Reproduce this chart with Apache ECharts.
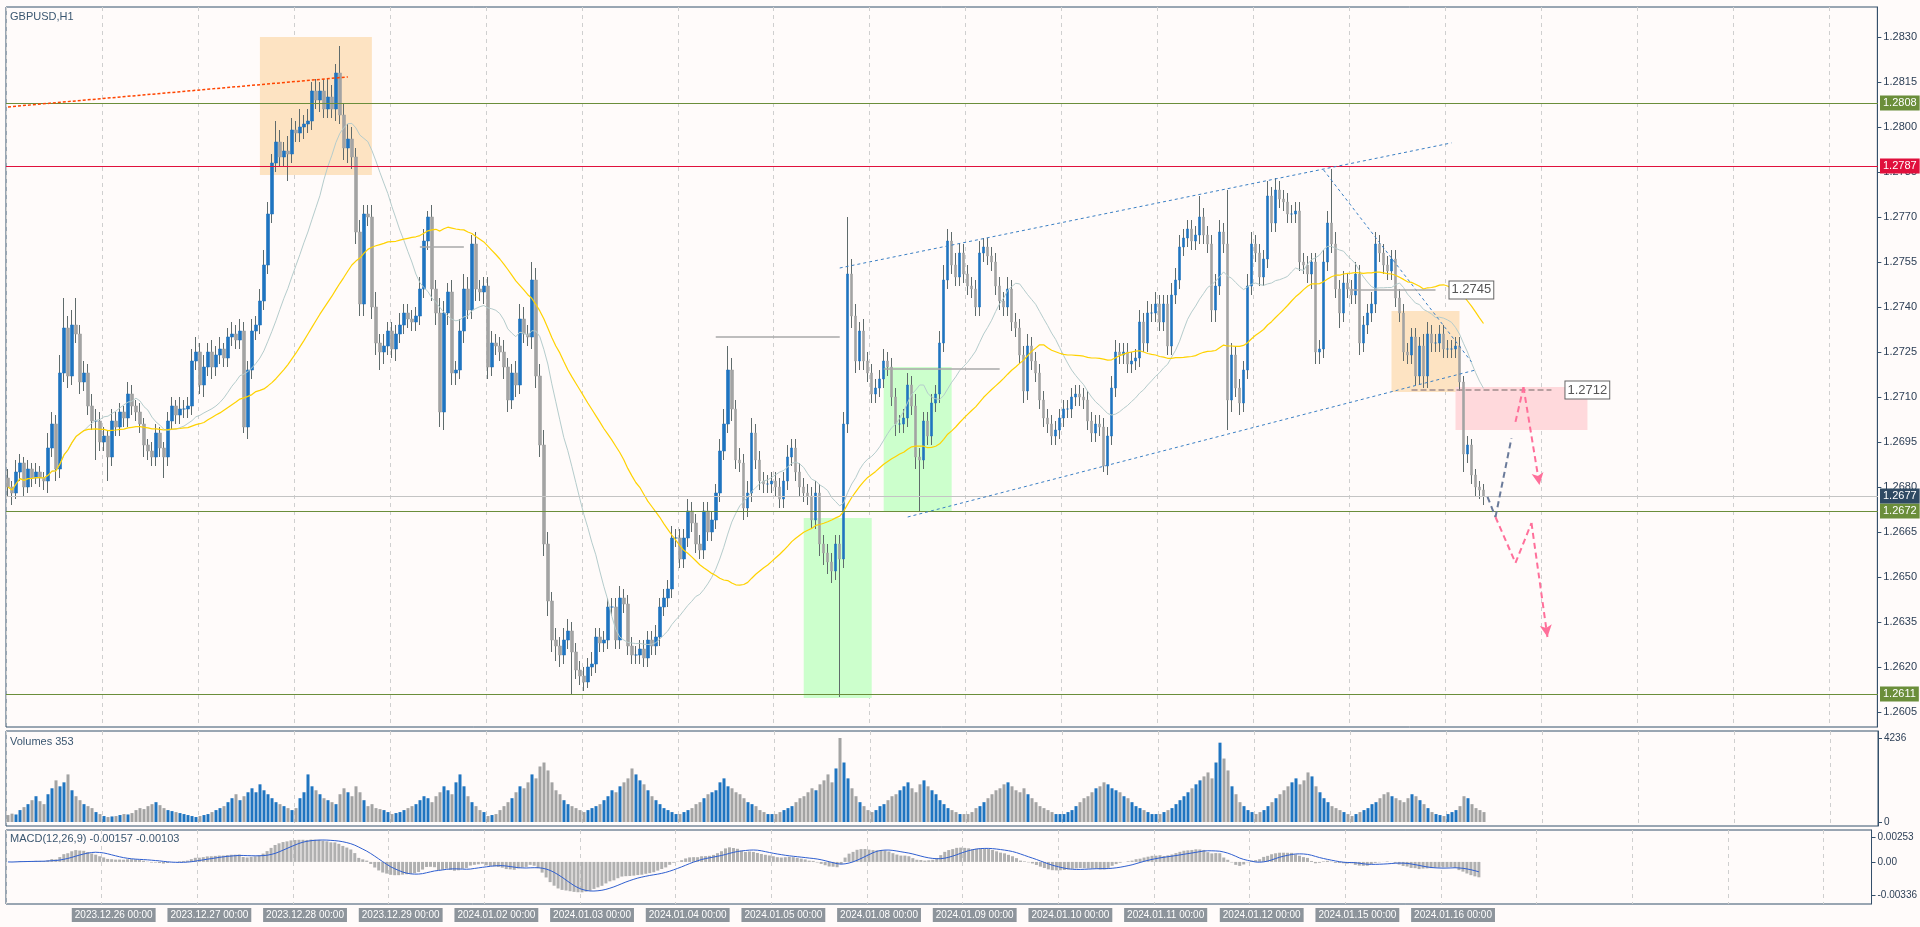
<!DOCTYPE html>
<html><head><meta charset="utf-8">
<script src="https://cdn.jsdelivr.net/npm/echarts@6/dist/echarts.min.js"></script>
<style>html,body{margin:0;padding:0;background:#fffbfa}#c{width:1920px;height:927px}</style>
</head><body><div id="c"></div>
<script>
const firstOpen = 1.2683;
const closes = [
1.2680,1.2678,1.2685,1.2688,1.2680,1.2686,1.2683,1.2685,1.2683,1.2682,
1.2693,1.2701,1.2686,1.2718,1.2733,1.2717,1.2734,1.2731,1.2715,1.2718,
1.2707,1.2702,1.2702,1.2695,1.2697,1.2690,1.2702,1.2700,1.2705,1.2703,
1.2711,1.2707,1.2705,1.2701,1.2694,1.2692,1.2690,1.2698,1.2693,1.2690,
1.2702,1.2707,1.2704,1.2706,1.2706,1.2707,1.2722,1.2725,1.2714,1.2720,
1.2725,1.2720,1.2724,1.2726,1.2723,1.2730,1.2731,1.2729,1.2732,1.2700,
1.2719,1.2732,1.2734,1.2742,1.2754,1.2771,1.2788,1.2795,1.2790,1.2792,
1.2791,1.2799,1.2798,1.2800,1.2801,1.2802,1.2812,1.2809,1.2812,1.2806,
1.2810,1.2806,1.2818,1.2804,1.2793,1.2796,1.2790,1.2765,1.2741,1.2771,
1.2770,1.2740,1.2728,1.2725,1.2727,1.2732,1.2726,1.2731,1.2734,1.2738,
1.2736,1.2735,1.2737,1.2746,1.2762,1.2770,1.2746,1.2738,1.2705,1.2738,
1.2745,1.2718,1.2719,1.2732,1.2746,1.2739,1.2761,1.2746,1.2745,1.2747,
1.2720,1.2728,1.2727,1.2725,1.2720,1.2709,1.2718,1.2714,1.2736,1.2731,
1.2730,1.2749,1.2717,1.2694,1.2661,1.2642,1.2629,1.2627,1.2624,1.2629,
1.2632,1.2625,1.2619,1.2617,1.2615,1.2620,1.2621,1.2630,1.2628,1.2629,
1.2640,1.2640,1.2629,1.2643,1.2641,1.2627,1.2624,1.2624,1.2626,1.2623,
1.2629,1.2627,1.2630,1.2640,1.2643,1.2646,1.2663,1.2663,1.2656,1.2663,
1.2672,1.2668,1.2661,1.2659,1.2672,1.2665,1.2669,1.2678,1.2692,1.2701,
1.2719,1.2706,1.2689,1.2688,1.2673,1.2678,1.2698,1.2689,1.2682,1.2681,
1.2681,1.2682,1.2680,1.2676,1.2682,1.2690,1.2693,1.2685,1.2680,1.2678,
1.2677,1.2669,1.2678,1.2661,1.2658,1.2655,1.2652,1.2661,1.2656,1.2701,
1.2751,1.2737,1.2722,1.2732,1.2722,1.2718,1.2711,1.2713,1.2716,1.2722,
1.2720,1.2710,1.2701,1.2701,1.2703,1.2714,1.2707,1.2690,1.2689,1.2702,
1.2697,1.2708,1.2711,1.2728,1.2749,1.2762,1.2754,1.2750,1.2758,1.2751,
1.2747,1.2746,1.2740,1.2758,1.2760,1.2757,1.2755,1.2747,1.2742,1.2740,
1.2746,1.2735,1.2733,1.2724,1.2712,1.2727,1.2722,1.2718,1.2709,1.2703,
1.2701,1.2697,1.2699,1.2703,1.2706,1.2706,1.2710,1.2711,1.2710,1.2709,
1.2702,1.2698,1.2701,1.2700,1.2687,1.2697,1.2713,1.2725,1.2724,1.2725,
1.2721,1.2722,1.2723,1.2735,1.2728,1.2738,1.2738,1.2741,1.2735,1.2741,
1.2727,1.2744,1.2749,1.2760,1.2763,1.2766,1.2762,1.2764,1.2770,1.2764,
1.2761,1.2739,1.2747,1.2765,1.2761,1.2709,1.2724,1.2713,1.2708,1.2719,
1.2747,1.2761,1.2758,1.2750,1.2756,1.2777,1.2768,1.2779,1.2776,1.2775,
1.2771,1.2771,1.2772,1.2755,1.2754,1.2751,1.2755,1.2725,1.2726,1.2755,
1.2768,1.2761,1.2746,1.2738,1.2748,1.2746,1.2744,1.2751,1.2728,1.2734,
1.2738,1.2741,1.2761,1.2758,1.2754,1.2752,1.2756,1.2743,1.2738,1.2725,
1.2724,1.2730,1.2717,1.2727,1.2717,1.2731,1.2728,1.2728,1.2731,1.2726,
1.2726,1.2726,1.2727,1.2715,1.2691,1.2694,1.2684,1.2680,1.2679,1.2677];
const wickUp = [
3,2,4,3,2,3,2,3,2,2, 5,4,3,6,10,4,5,9,3,4, 3,4,4,3,3,2,4,3,3,2, 4,3,2,3,2,2,3,3,2,2,
3,3,2,4,3,3,4,5,3,4, 3,4,3,4,2,3,4,3,4,3, 3,4,3,4,5,4,3,7,4,3, 5,4,3,6,3,4,3,4,3,4,
6,4,3,9,4,5,4,3,4,3, 3,4,5,3,4,3,3,3,4,3, 3,3,3,4,4,2,4,3,5,4, 3,4,3,4,5,4,3,4,3,3,
3,4,3,3,4,3,3,4,5,4, 3,6,4,4,5,4,3,4,3,4, 4,3,3,3,3,3,4,3,3,3, 3,3,3,4,3,3,3,3,3,3,
3,3,4,3,3,3,4,3,3,3, 4,3,3,3,3,3,3,3,4,5, 8,4,3,4,3,4,5,3,3,3, 3,3,3,3,3,4,3,3,3,3,
3,3,4,3,3,3,3,3,3,4, 19,5,4,3,4,3,3,3,3,4, 3,3,3,3,3,4,3,4,3,3, 3,3,3,4,5,4,3,4,3,3,
3,3,3,4,3,3,3,3,3,3, 4,3,3,3,3,4,3,3,3,3, 3,3,3,3,3,3,3,3,3,3, 3,3,3,3,3,3,4,4,3,3,
3,3,3,4,3,4,3,4,3,3, 3,4,4,4,3,3,3,3,7,3, 3,3,4,4,3,18,4,3,3,3, 4,4,3,3,3,5,3,4,3,3,
3,3,3,3,3,3,3,3,3,4, 4,18,4,3,4,3,3,4,3,3, 3,4,4,3,3,3,3,3,3,3, 3,3,3,3,4,4,3,3,3,3,
3,3,3,3,2,3,2,2,2,2];
const wickDown = [
3,4,2,3,3,2,3,2,3,3, 4,3,4,3,3,4,3,3,4,3, 3,3,13,3,3,8,3,3,3,3, 3,3,3,3,4,3,3,3,3,7,
3,3,3,3,3,3,3,3,3,4, 3,4,3,3,3,3,3,3,3,2, 4,3,3,3,3,3,3,3,3,3, 9,3,3,3,4,3,3,3,4,3,
3,3,4,3,4,5,4,4,4,4, 3,4,4,6,4,3,3,4,3,3, 3,3,3,3,3,3,4,4,5,6, 4,4,4,3,4,3,3,4,3,4,
4,3,3,3,4,4,3,4,3,3, 3,4,4,4,4,5,4,5,4,3, 3,14,3,3,3,2,3,3,3,3, 3,3,3,3,3,3,3,3,3,3,
3,3,3,3,3,3,3,3,3,3, 3,3,3,3,3,3,3,3,3,3, 3,4,3,3,4,3,3,3,3,3, 3,3,3,3,3,3,3,3,3,3,
3,3,3,4,4,4,4,3,46,3, 3,4,4,3,3,3,3,3,3,3, 3,3,4,3,3,3,3,4,17,3, 3,3,3,3,3,3,3,3,3,3,
3,3,3,3,3,3,3,3,3,3, 3,3,3,3,4,3,3,3,3,3, 3,3,3,3,3,3,3,3,3,3, 3,3,3,3,2,3,3,3,3,3,
3,3,3,3,3,3,3,3,3,3, 3,3,3,3,3,3,3,3,3,3, 3,4,4,3,3,10,4,3,4,3, 3,3,3,3,3,3,3,3,3,3,
3,3,3,3,3,3,5,4,4,3, 3,3,3,5,3,3,3,3,4,3, 3,3,3,3,3,3,3,3,3,3, 3,3,3,3,4,4,3,3,3,3,
3,3,3,3,6,3,3,3,3,3];
const volumes = [
350,420,380,600,750,900,1100,1300,1050,900,1400,1700,2100,1800,2000,2400,1600,1300,1100,900,800,700,500,400,
300,250,280,300,350,400,380,450,600,700,650,800,900,1000,850,700,600,550,500,450,400,350,300,250,
300,350,400,500,600,700,800,1000,1200,1400,1100,1300,1500,1700,1500,1900,1600,1400,1200,1000,900,800,700,600,
700,1200,1500,2400,1800,1600,1400,1200,1100,1000,900,1400,1700,1500,1300,1800,1500,1100,800,900,700,650,600,500,
400,450,500,600,700,800,900,1100,1300,1200,1000,1300,1500,1800,1600,1400,2000,2400,1800,1300,1000,800,600,500,
300,350,400,600,800,1000,1200,1500,1800,1700,2000,2400,2200,2800,3000,2600,2000,1600,1400,1100,900,800,700,600,
500,600,700,800,900,1100,1300,1600,1500,1800,2000,2200,2700,2400,2100,1900,1600,1300,1100,900,700,600,500,400,
400,500,600,700,900,1000,1200,1400,1500,1600,2000,2200,1800,1700,1500,1400,1200,1000,900,800,600,500,400,400,
400,500,600,700,800,1000,1200,1300,1500,1700,1600,1900,2100,2400,2000,2700,4236,3000,2200,1700,1300,1000,800,600,
500,600,800,900,1100,1300,1400,1600,1800,2000,1700,1500,1900,2100,1800,1600,1400,1100,900,700,600,500,400,400,
400,500,700,800,1000,1200,1400,1600,1700,1900,2000,1800,1600,1500,1700,1400,1200,1000,800,700,600,500,400,400,
400,500,600,800,1000,1200,1300,1500,1700,1800,2000,1900,1700,1600,1500,1300,1200,1000,800,700,600,500,400,400,
400,500,600,700,900,1100,1300,1500,1700,1900,2100,2300,2500,2200,3000,4000,3200,2600,1800,1400,1000,800,600,500,
400,500,600,800,1000,1200,1400,1600,1800,2000,2200,1900,2100,2500,2300,1800,1500,1200,1000,800,700,600,500,400,
300,400,500,600,700,900,1000,1200,1400,1500,1300,1200,1100,1000,1200,1400,1300,1100,900,700,500,400,350,300,
400,500,600,800,1300,1200,900,700,600,500];
const dayLabels = ['2023.12.26 00:00','2023.12.27 00:00','2023.12.28 00:00','2023.12.29 00:00','2024.01.02 00:00',
 '2024.01.03 00:00','2024.01.04 00:00','2024.01.05 00:00','2024.01.08 00:00','2024.01.09 00:00','2024.01.10 00:00',
 '2024.01.11 00:00','2024.01.12 00:00','2024.01.15 00:00','2024.01.16 00:00'];
const priceTicks = [1.2605,1.2620,1.2635,1.2650,1.2665,1.2680,1.2695,1.2710,1.2725,1.2740,1.2755,1.2770,1.2785,1.2800,1.2815,1.2830];
const levels = {r1:1.2808, r2:1.2787, s1:1.2672, s2:1.2611, last:1.2677};

const N = 468, n = closes.length;
const cats = Array.from({length:N},(_,i)=>i);
const bodies=[], wicks=[], dir=[];
for(let i=0;i<N;i++){
  if(i>=n){bodies.push('-');wicks.push('-');continue;}
  const o = i===0?firstOpen:closes[i-1], c = closes[i];
  const lo=Math.min(o,c), hi=Math.max(o,c);
  bodies.push([o,c,lo,hi]);
  const H=+(hi+wickUp[i]*1e-4).toFixed(5), L=+(lo-wickDown[i]*1e-4).toFixed(5);
  wicks.push([H,H,L,H]);
  dir.push(c>=o);
}
function sma(p){return cats.map(i=>{if(i>=n)return '-';const s=Math.max(0,i-p+1);let t=0;for(let k=s;k<=i;k++)t+=closes[k];return +(t/(i-s+1)).toFixed(5);});}
const maFast=sma(20), maSlow=sma(50);
function ema(p){const a=2/(p+1);const r=[];let e=closes[0];for(let i=0;i<n;i++){e=i?closes[i]*a+e*(1-a):closes[0];r.push(e);}return r;}
const e12=ema(12), e26=ema(26);
const macd=e12.map((v,i)=>v-e26[i]);
const sig=macd.map((v,i)=>{const s=Math.max(0,i-8);let t=0;for(let k=s;k<=i;k++)t+=macd[k];return t/(i-s+1);});
const macdData=cats.map(i=>i<n?+macd[i].toFixed(6):'-');
const sigData=cats.map(i=>i<n?+sig[i].toFixed(6):'-');
const volData=cats.map(i=>i<n?{value:volumes[i],itemStyle:{color:dir[i]?'#1f74c0':'#a3a3a3'}}:'-');

const FONT='Liberation Sans, DejaVu Sans, sans-serif';
const AX='#35506b';
const grids=[{left:6,right:42,top:7,height:720},{left:6,right:42,top:731,height:95},{left:6,right:42,top:830,height:74}]
  .map(g=>Object.assign(g,{show:true,borderColor:AX,borderWidth:1,backgroundColor:'#fffbfa'}));
function xa(gi,showLab){return {type:'category',gridIndex:gi,data:cats,boundaryGap:true,
  axisLine:{show:false},axisTick:{show:false},
  splitLine:{show:true,interval:(i)=>i%24===0,lineStyle:{color:'#cfcfcf',type:[4,4]}},
  axisLabel:showLab?{show:true,hideOverlap:false,interval:(i)=>(i%24===16&&i<=352)||i===371,align:'left',margin:4,fontSize:10,fontFamily:FONT,
    formatter:(v,i)=>{const idx=+v; if(idx===371)return '{p|Jan 07:00}'; return '{b|'+dayLabels[(idx-16)/24]+'}';},
    rich:{b:{backgroundColor:'#8d949b',color:'#ffffff',padding:[2,3],fontSize:10,fontFamily:FONT},p:{color:'#2e4057',fontSize:10,fontFamily:FONT,padding:[2,3]}}}:{show:false}};}
const hline=(v,col,bg)=>[{yAxis:v,x:6,lineStyle:{color:col,width:1,type:'solid'},label:{show:true,position:'end',formatter:v.toFixed(4),backgroundColor:bg,color:'#fff',padding:[2,3],fontSize:11,fontFamily:FONT,distance:2}},{yAxis:v,x:1878}];
const seg=(a,b,style,arrow)=>[{coord:a,symbol:'none'},{coord:b,symbol:arrow?'arrow':'none',symbolSize:arrow?[9,12]:0,lineStyle:style}];
const pink={color:'#ff6f9a',width:2,type:[6,4]};
const blueDot={color:'#3a7fc4',width:1,type:[3,3]};
const grayL={color:'#a8a8a8',width:1.5,type:'solid'};
const boxLab=(t)=>({show:true,position:'end',formatter:t,backgroundColor:'#fff',borderColor:'#666',borderWidth:1,color:'#555',padding:[2,2],fontSize:13,fontFamily:FONT,distance:14});

const option={
  animation:false,backgroundColor:'#fffbfa',
  grid:grids,
  xAxis:[xa(0,false),xa(1,false),xa(2,true)],
  yAxis:[
    {type:'value',gridIndex:0,position:'right',min:1.2600,max:1.2840,scale:true,splitLine:{show:false},
      axisLine:{show:true,lineStyle:{color:AX}},axisTick:{show:true,length:4,customValues:priceTicks,lineStyle:{color:AX}},
      axisLabel:{customValues:priceTicks,formatter:v=>v.toFixed(4),color:'#2e4057',fontSize:11,fontFamily:FONT,margin:6}},
    {type:'value',gridIndex:1,position:'right',min:-202,max:4589,splitLine:{show:false},
      axisLine:{show:true,lineStyle:{color:AX}},axisTick:{show:true,length:4,customValues:[0,4236]},
      axisLabel:{customValues:[0,4236],formatter:v=>String(Math.round(v)),color:'#2e4057',fontSize:10,fontFamily:FONT,margin:6}},
    {type:'value',gridIndex:2,position:'right',min:-0.00427,max:0.00324,splitLine:{show:false},
      axisLine:{show:true,lineStyle:{color:AX}},axisTick:{show:true,length:4,customValues:[-0.00336,0,0.00253]},
      axisLabel:{customValues:[-0.00336,0,0.00253],formatter:v=>v===0?'0.00':v.toFixed(5),color:'#2e4057',fontSize:10,fontFamily:FONT,margin:6}}
  ],
  series:[
    {type:'line',name:'zones',xAxisIndex:0,yAxisIndex:0,data:cats.map(()=>'-'),z:1,silent:true,
     markArea:{silent:true,data:[
       [{coord:[63,1.2830],itemStyle:{color:'#fde3c2'}},{coord:[91,1.2784]}],
       [{coord:[199,1.26697],itemStyle:{color:'#ccffcc'}},{coord:[216,1.26097]}],
       [{coord:[219,1.2720],itemStyle:{color:'#ccffcc'}},{coord:[236,1.26717]}],
       [{coord:[346,1.27387],itemStyle:{color:'#fde3c2'}},{coord:[363,1.27117]}],
       [{coord:[362,1.27133],itemStyle:{color:'#ffd9dc'}},{coord:[395,1.2699]}]
     ]},
     markLine:{silent:true,symbol:'none',animation:false,data:[
       hline(levels.r1,'#6b8e3a','#6b8e3a'),
       hline(levels.r2,'#e0103c','#e0103c'),
       hline(levels.s1,'#6b8e3a','#6b8e3a'),
       hline(levels.s2,'#6b8e3a','#6b8e3a'),
       [{yAxis:levels.last,x:6,lineStyle:{color:'#c4c4c4',width:1,type:'solid'},label:{show:true,position:'end',formatter:'1.2677',backgroundColor:'#2f4a63',color:'#fff',padding:[2,3],fontSize:11,fontFamily:FONT,distance:2}},{yAxis:levels.last,x:1878}],
       [{coord:[417,1.2800],lineStyle:{color:'#b4b4b4',type:[4,3],width:1},label:{show:true,position:'insideStartBottom',formatter:'1.2800',color:'#b8b8b8',fontSize:13,fontFamily:FONT,distance:[0,4]}},{coord:[467.5,1.2800]}],
       [{coord:[417,1.2700],lineStyle:{color:'#b4b4b4',type:[4,3],width:1},label:{show:true,position:'insideStartBottom',formatter:'1.2700',color:'#b8b8b8',fontSize:13,fontFamily:FONT,distance:[0,4]}},{coord:[467.5,1.2700]}],
       [{coord:[400,1.26005],lineStyle:{color:'#b4b4b4',type:[4,3],width:1},label:{show:false}},{coord:[467.5,1.26005]}],
       [{coord:[0,1.28067],lineStyle:{color:'#ff4500',type:[3,2],width:1.5},label:{show:false}},{coord:[85,1.28167]}],
       [{coord:[208,1.2753],lineStyle:blueDot,label:{show:false}},{coord:[361,1.27947]}],
       [{coord:[224.5,1.2670],lineStyle:blueDot,label:{show:false}},{coord:[367,1.2719]}],
       [{coord:[329,1.27857],lineStyle:blueDot,label:{show:false}},{coord:[366,1.27217]}],
       [{coord:[177,1.2730],lineStyle:grayL,label:{show:false}},{coord:[208,1.2730]}],
       [{coord:[219,1.27193],lineStyle:grayL,label:{show:false}},{coord:[248,1.27193]}],
       [{coord:[103,1.2760],lineStyle:grayL,label:{show:false}},{coord:[114,1.2760]}],
       [{coord:[336,1.27457],lineStyle:grayL,label:boxLab('1.2745')},{coord:[357,1.27457]}],
       [{coord:[351,1.27123],lineStyle:{color:'#a08c8c',width:1.5},label:boxLab('1.2712')},{coord:[386,1.27123]}]
     ]}},
    {type:'candlestick',name:'wicks',xAxisIndex:0,yAxisIndex:0,data:wicks,barWidth:1,z:2,silent:true,
     itemStyle:{color:'#5f6b6b',color0:'#5f6b6b',borderColor:'#5f6b6b',borderColor0:'#5f6b6b',borderColorDoji:'#5f6b6b',borderWidth:1}},
    {type:'candlestick',name:'GBPUSD',xAxisIndex:0,yAxisIndex:0,data:bodies,barWidth:3,z:3,silent:true,
     itemStyle:{color:'#1f74c0',color0:'#a3a3a3',borderColor:'#1f74c0',borderColor0:'#a3a3a3',borderColorDoji:'#1f74c0',borderWidth:0.6}},
    {type:'line',name:'MA fast',xAxisIndex:0,yAxisIndex:0,data:maFast,symbol:'none',z:4,lineStyle:{color:'#b5cccc',width:1},silent:true},
    {type:'line',name:'MA slow',xAxisIndex:0,yAxisIndex:0,data:maSlow,symbol:'none',z:4,lineStyle:{color:'#ffd200',width:1.2},silent:true},
    {type:'line',name:'proj',xAxisIndex:0,yAxisIndex:0,data:cats.map(()=>'-'),z:5,silent:true,
     markLine:{silent:true,animation:false,label:{show:false},data:[
       seg([369.7,1.26767],[372.2,1.2670],{color:'#6a7a9a',width:2,type:[6,4]},false),
       seg([372.2,1.2670],[376,1.26963],{color:'#6a7a9a',width:2,type:[6,4]},false),
       seg([372.2,1.2670],[377.25,1.26547],pink,false),
       seg([377.25,1.26547],[381,1.2668],pink,false),
       seg([381,1.2668],[384.75,1.2630],pink,true),
       seg([377,1.27017],[379.25,1.27133],pink,false),
       seg([379.25,1.27133],[382.75,1.26807],pink,true)
     ]}},
    {type:'bar',name:'Volumes',xAxisIndex:1,yAxisIndex:1,data:volData,barWidth:3,silent:true},
    {type:'bar',name:'MACD',xAxisIndex:2,yAxisIndex:2,data:macdData,barWidth:3,itemStyle:{color:'#b0b0b0'},silent:true},
    {type:'line',name:'Signal',xAxisIndex:2,yAxisIndex:2,data:sigData,symbol:'none',lineStyle:{color:'#2f5fd0',width:1},silent:true}
  ],
  graphic:[
    {type:'text',left:10,top:11,style:{text:'GBPUSD,H1',fill:'#3a5670',fontSize:11,fontFamily:FONT}},
    {type:'text',left:10,top:736,style:{text:'Volumes 353',fill:'#3a5670',fontSize:11,fontFamily:FONT}},
    {type:'text',left:10,top:833,style:{text:'MACD(12,26,9) -0.00157 -0.00103',fill:'#3a5670',fontSize:11,fontFamily:FONT}}
  ]
};
const chart=echarts.init(document.getElementById('c'),null,{renderer:'canvas'});
chart.setOption(option);
</script></body></html>
